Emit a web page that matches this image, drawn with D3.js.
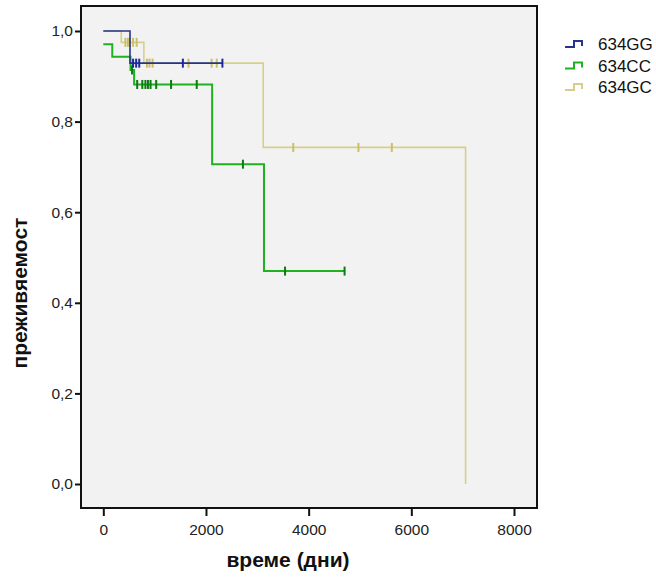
<!DOCTYPE html>
<html><head><meta charset="utf-8">
<script src="https://cdn.jsdelivr.net/npm/d3@7"></script>
<style>body{margin:0;background:#fff}svg{display:block}</style>
</head><body>
<script>
// ---- data ----
const groups = ["634GG", "634CC", "634GC"];
const colors = ["#27348b", "#1fb21f", "#d6cf8c"];
const markColors = ["#1a2a9a", "#0c7a10", "#c9bf6a"];
// step functions: event times and survival after each time
const ggTimes = [0, 520];
const ggSurv  = [1.0, 0.929];
const ggEnd = 2330;
const ggCens = [580, 640, 700, 1550, 2320];

const ccTimes = [0, 175, 530, 600, 2120, 3130];
const ccSurv  = [0.971, 0.943, 0.914, 0.882, 0.706, 0.470];
const ccEnd = 4700;
const ccCens = [560, 660, 760, 820, 870, 920, 1030, 1320, 1820, 2720, 3540, 4700];

const gcTimes = [0, 350, 790, 3115, 7057];
const gcSurv  = [1.0, 0.975, 0.929, 0.743, 0.0];
const gcEnd = 7057;
const gcCens = [430, 480, 520, 580, 650, 850, 900, 960, 1660, 2110, 2210, 3700, 4970, 5620];

const xTicks = [0, 2000, 4000, 6000, 8000];
const yTicks = [0, 0.2, 0.4, 0.6, 0.8, 1.0];

const series = [
  {times: ggTimes, surv: ggSurv, end: ggEnd, cens: ggCens},
  {times: ccTimes, surv: ccSurv, end: ccEnd, cens: ccCens},
  {times: gcTimes, surv: gcSurv, end: gcEnd, cens: gcCens}
];

// ---- layout ----
const W = 656, H = 579;
const box = {l: 81, r: 537, t: 6, b: 508};
const x = d3.scaleLinear().domain([0, 8000]).range([103.3, 514]);
const y = d3.scaleLinear().domain([0, 1]).range([484, 31]);

const svg = d3.select("body").append("svg").attr("width", W).attr("height", H)
  .style("font-family", "'Liberation Sans', Arial, sans-serif");

svg.append("rect").attr("x", box.l).attr("y", box.t)
  .attr("width", box.r - box.l).attr("height", box.b - box.t)
  .attr("fill", "#f2f2f2");

function survAt(s, t) {
  let v = s.surv[0];
  for (let i = 0; i < s.times.length; i++) if (s.times[i] <= t) v = s.surv[i];
  return v;
}
function stepPath(s) {
  const p = d3.path();
  p.moveTo(x(s.times[0]), y(s.surv[0]));
  for (let i = 1; i < s.times.length; i++) {
    p.lineTo(x(s.times[i]), y(s.surv[i - 1]));
    p.lineTo(x(s.times[i]), y(s.surv[i]));
  }
  p.lineTo(x(s.end), y(s.surv[s.surv.length - 1]));
  return p.toString();
}

const order = [2, 1, 0];
const widths = [1.6, 2, 1.6];
order.forEach(i => {
  const s = series[i];
  const g = svg.append("g");
  g.append("path").attr("d", stepPath(s)).attr("fill", "none")
    .attr("stroke", colors[i]).attr("stroke-width", widths[i]);
  g.selectAll("line.c").data(s.cens).join("line")
    .attr("x1", d => x(d)).attr("x2", d => x(d))
    .attr("y1", d => y(survAt(s, d)) - 4.5).attr("y2", d => y(survAt(s, d)) + 4.5)
    .attr("stroke", markColors[i]).attr("stroke-width", 2);
});

// box border
svg.append("rect").attr("x", box.l).attr("y", box.t)
  .attr("width", box.r - box.l).attr("height", box.b - box.t)
  .attr("fill", "none").attr("stroke", "#111").attr("stroke-width", 2);

// x axis
const xa = svg.append("g").attr("transform", `translate(0,${box.b})`)
  .call(d3.axisBottom(x).tickValues(xTicks).tickSize(8).tickFormat(d3.format("d")));
xa.select(".domain").remove();
xa.selectAll("line").attr("stroke", "#111").attr("stroke-width", 2);
xa.selectAll("text").attr("font-size", 15.5).attr("fill", "#222").attr("dy", "1.0em")
  .style("font-family", "'Liberation Sans', Arial, sans-serif");

// y axis
const ya = svg.append("g").attr("transform", `translate(${box.l},0)`)
  .call(d3.axisLeft(y).tickValues(yTicks).tickSize(6)
    .tickFormat(d => d3.format(".1f")(d).replace(".", ",")));
ya.select(".domain").remove();
ya.selectAll("line").attr("stroke", "#111").attr("stroke-width", 2);
ya.selectAll("text").attr("font-size", 15.5).attr("fill", "#222").attr("x", -8)
  .style("font-family", "'Liberation Sans', Arial, sans-serif");

// titles
svg.append("text").attr("transform", "translate(27,293) rotate(-90)")
  .attr("text-anchor", "middle").attr("font-size", 21).attr("font-weight", "bold")
  .attr("fill", "#111").text("преживяемост");
svg.append("text").attr("x", 288).attr("y", 567)
  .attr("text-anchor", "middle").attr("font-size", 21).attr("font-weight", "bold")
  .attr("fill", "#111").text("време (дни)");

// legend
const leg = svg.append("g");
groups.forEach((gname, i) => {
  const cy = 44 + i * 21.5;
  leg.append("path")
    .attr("d", `M565,${cy + 3}H574V${cy - 3}H582V${cy + 2}`)
    .attr("fill", "none").attr("stroke", colors[i]).attr("stroke-width", 2);
  leg.append("text").attr("x", 598).attr("y", cy).attr("dy", "0.36em")
    .attr("font-size", 17).attr("fill", "#111").text(gname);
});
</script>
</body></html>
